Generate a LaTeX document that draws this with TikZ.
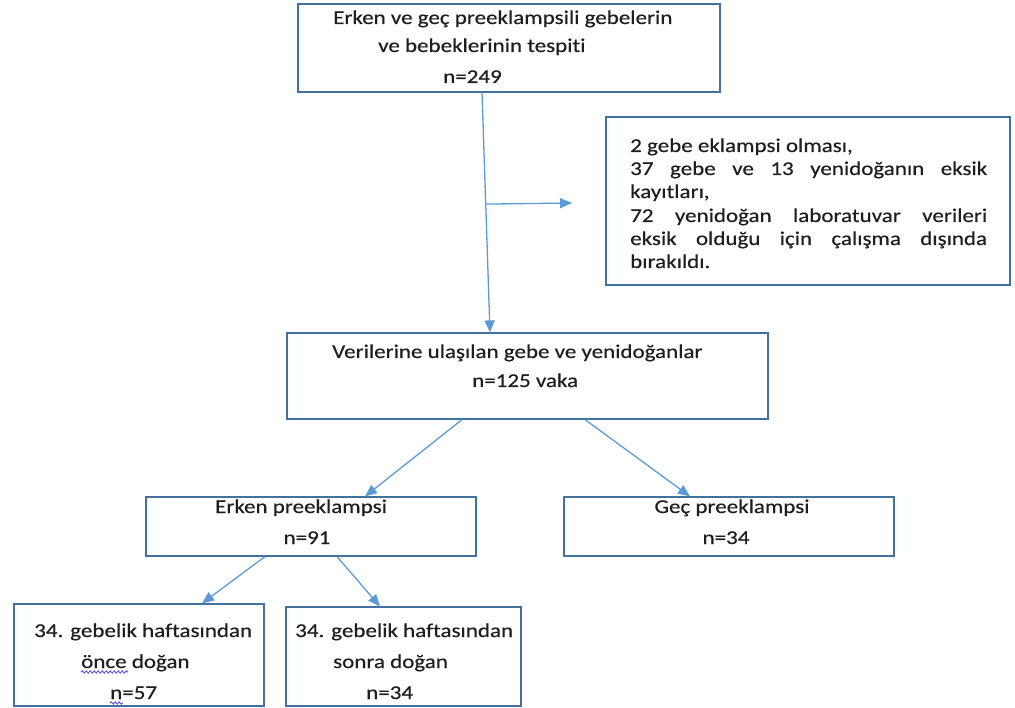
\documentclass[tikz,border=0pt]{standalone}
\usepackage{fontspec}
\setmainfont{Carlito}[FakeStretch=1.18,FakeBold=0.35,Ligatures={NoCommon}]
\usetikzlibrary{arrows.meta,calc,decorations.pathmorphing}
\definecolor{boxc}{HTML}{41719C}
\definecolor{arrc}{HTML}{5B9BD5}
\definecolor{txtc}{HTML}{1E1E1E}
\definecolor{squig}{HTML}{4A4AD8}
\tikzset{
  box/.style={draw=boxc,line width=1.2pt,fill=white,inner sep=0pt},
  lbl/.style={inner sep=0pt,text=txtc,font=\fontsize{19.5}{23}\selectfont,anchor=base west},
  clbl/.style={lbl,anchor=base},
  arr/.style={draw=arrc,line width=1.3pt,-{Triangle[length=12pt,width=10pt]}},
  wavy/.style={draw=squig,line width=0.8pt,decorate,decoration={snake,segment length=4pt,amplitude=1.2pt}}
}
\begin{document}
\begin{tikzpicture}[x=1pt,y=-1pt]
\useasboundingbox (0,0) rectangle (1015,708);
% boxes
\node[box,minimum width=422pt,minimum height=88pt] (top) at (509,48) {};
\node[box,minimum width=404pt,minimum height=168pt] (excl) at (808,201) {};
\node[box,minimum width=481pt,minimum height=86pt] (mid) at (527.5,376) {};
\node[box,minimum width=330pt,minimum height=59pt] (erken) at (311,526.5) {};
\node[box,minimum width=330pt,minimum height=59pt] (gec) at (729,526.5) {};
\node[box,minimum width=250pt,minimum height=102pt] (bl) at (139,655) {};
\node[box,minimum width=235pt,minimum height=99pt] (br) at (403.5,656.5) {};
% texts
\node[lbl] (t1) at (333,24) {Erken ve geç preeklampsili gebelerin};
\node[lbl] (t2) at (378,52) {ve bebeklerinin tespiti};
\node[lbl] (t3) at (443,83) {n=249};
\node[lbl] (e1) at (630,152) {2 gebe eklampsi olması,};
\node[lbl] (e2) at (630,175) {\makebox[357pt][s]{37 gebe ve 13 yenidoğanın eksik}};
\node[lbl] (e3) at (630,198) {kayıtları,};
\node[lbl] (e4) at (630,222) {\makebox[357pt][s]{72 yenidoğan laboratuvar verileri}};
\node[lbl] (e5) at (630,245) {\makebox[357pt][s]{eksik olduğu için çalışma dışında}};
\node[lbl] (e6) at (630,268) {bırakıldı.};
\node[lbl] (m1) at (332,358) {Verilerine ulaşılan gebe ve yenidoğanlar};
\node[lbl] (m2) at (472,387) {n=125 vaka};
\node[clbl] (k1) at (301,513) {Erken preeklampsi};
\node[clbl] (k2) at (307,544) {n=91};
\node[clbl] (g1) at (732,513) {Geç preeklampsi};
\node[clbl] (g2) at (726,544) {n=34};
\node[lbl] (b1) at (34,637) {34. gebelik haftasından};
\node[lbl] (b2) at (81,668) {önce doğan};
\node[lbl] (b3) at (110,699) {n=57};
\node[lbl] (r1) at (295,637) {34. gebelik haftasından};
\node[lbl] (r2) at (333,668) {sonra doğan};
\node[lbl] (r3) at (366,699) {n=34};
% spell-check squiggles
\draw[wavy] ($(b2.base west)+(0,4)$) -- ++(47,0);
\draw[wavy] ($(b3.base west)+(0,4)$) -- ++(13,0);
% connector coordinates
\coordinate (x482) at (482,0);
\coordinate (x490) at (490,0);
\coordinate (x462) at (462,0);
\coordinate (x365) at (365,0);
\coordinate (x585) at (585,0);
\coordinate (x690) at (690,0);
\coordinate (x265) at (265,0);
\coordinate (x202) at (202,0);
\coordinate (x337) at (337,0);
\coordinate (x380) at (380,0);
\coordinate (s1) at (top.south -| x482);
\coordinate (s2) at (mid.north -| x490);
\coordinate (br0) at ($(s1)!0.465!(s2)$);
\coordinate (brEnd) at (572,203);
% connectors
\draw[arr] (s1) -- (s2);
\draw[arr] (br0) -- (brEnd);
\draw[arr] (mid.south -| x462) -- (erken.north -| x365);
\draw[arr] (mid.south -| x585) -- (gec.north -| x690);
\draw[arr] (erken.south -| x265) -- (bl.north -| x202);
\draw[arr] (erken.south -| x337) -- (br.north -| x380);
\end{tikzpicture}
\end{document}
